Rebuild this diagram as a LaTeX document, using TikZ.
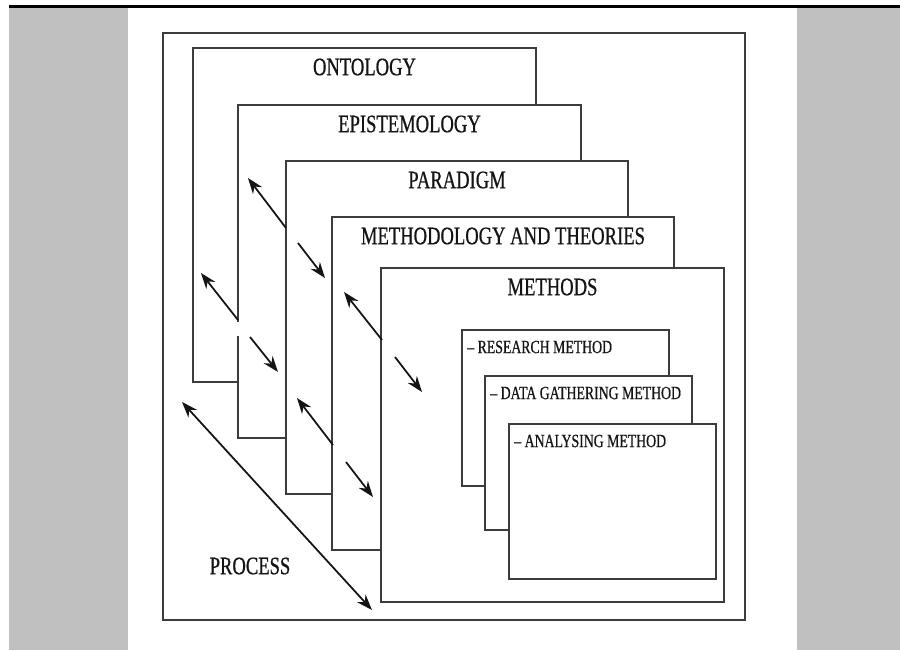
\documentclass[tikz,border=0pt]{standalone}
\usepackage{fontspec}
\setmainfont{Liberation Serif}[FakeStretch=0.74,FakeBold=0.6]
\usetikzlibrary{arrows.meta}
\definecolor{stripgray}{RGB}{192,192,192}
\definecolor{edgegray}{RGB}{60,60,60}
\definecolor{inkgray}{RGB}{20,20,20}

\begin{document}
\begin{tikzpicture}[x=0.02cm,y=-0.02cm,
  box/.style={draw=edgegray,line width=1.2pt,fill=white},
  biglabel/.style={text=inkgray,font=\fontsize{14.3}{16}\selectfont,inner sep=0pt},
  smalllabel/.style={text=inkgray,font=\fontsize{10.6}{12}\selectfont,inner sep=0pt,anchor=west},
  arr/.style={-{Stealth[length=9pt,width=6.5pt]},line width=1pt,draw=inkgray}]
  \useasboundingbox (0,0) rectangle (900,650);
  % page strips
  \fill[stripgray] (9,7) rectangle (128,650);
  \fill[stripgray] (797,7) rectangle (900,650);
  \fill[black] (9,5) rectangle (900,7.5);
  % outer frame
  \draw[box] (163,33) rectangle (745,620);
  % stacked layers
  \foreach \n/\l/\t/\r/\b/\txt in {onto/193/48/536/382/ONTOLOGY,
      epist/238/105/581/438/EPISTEMOLOGY,
      para/286/161/628/494/PARADIGM,
      methth/332/217/674/550/METHODOLOGY AND THEORIES,
      methods/381/268/724/602/METHODS}
  {
    \draw[box] (\l,\t) rectangle (\r,\b);
    \node[biglabel] (\n) at ({(\l+\r)/2},\t+19) {\txt};
  }
  % inner method boxes
  \foreach \n/\l/\t/\r/\b/\txt in {research/462/330/669/486/RESEARCH METHOD,
      datagath/485/376/692/530/DATA GATHERING METHOD,
      analys/509/424/716/579/ANALYSING METHOD}
  {
    \draw[box] (\l,\t) rectangle (\r,\b);
    \node[smalllabel] (\n) at (\l+5,\t+17) {\textendash{} \txt};
  }
  \draw[white,line width=1.6pt] (238,322) -- (238,336);
  % arrows between layers
  \foreach \i/\sx/\sy/\ex/\ey in {1/286/228/248/178, 2/298/243/325/278,
      3/238/320/201/273, 4/250/337/278/372,
      5/382/340/344/292, 6/395/357/422/392,
      7/333/445/297/398, 8/346/462/373/497}
  {
    \coordinate (s\i) at (\sx,\sy);
    \coordinate (e\i) at (\ex,\ey);
    \draw[arr] (s\i) -- (e\i);
  }
  % process
  \coordinate (procA) at (182,402);
  \coordinate (procB) at (372,610);
  \draw[arr,{Stealth[length=9pt,width=6.5pt]}-{Stealth[length=9pt,width=6.5pt]}] (procA) -- (procB);
  \node[biglabel] (process) at (250,566) {PROCESS};
\end{tikzpicture}
\end{document}
